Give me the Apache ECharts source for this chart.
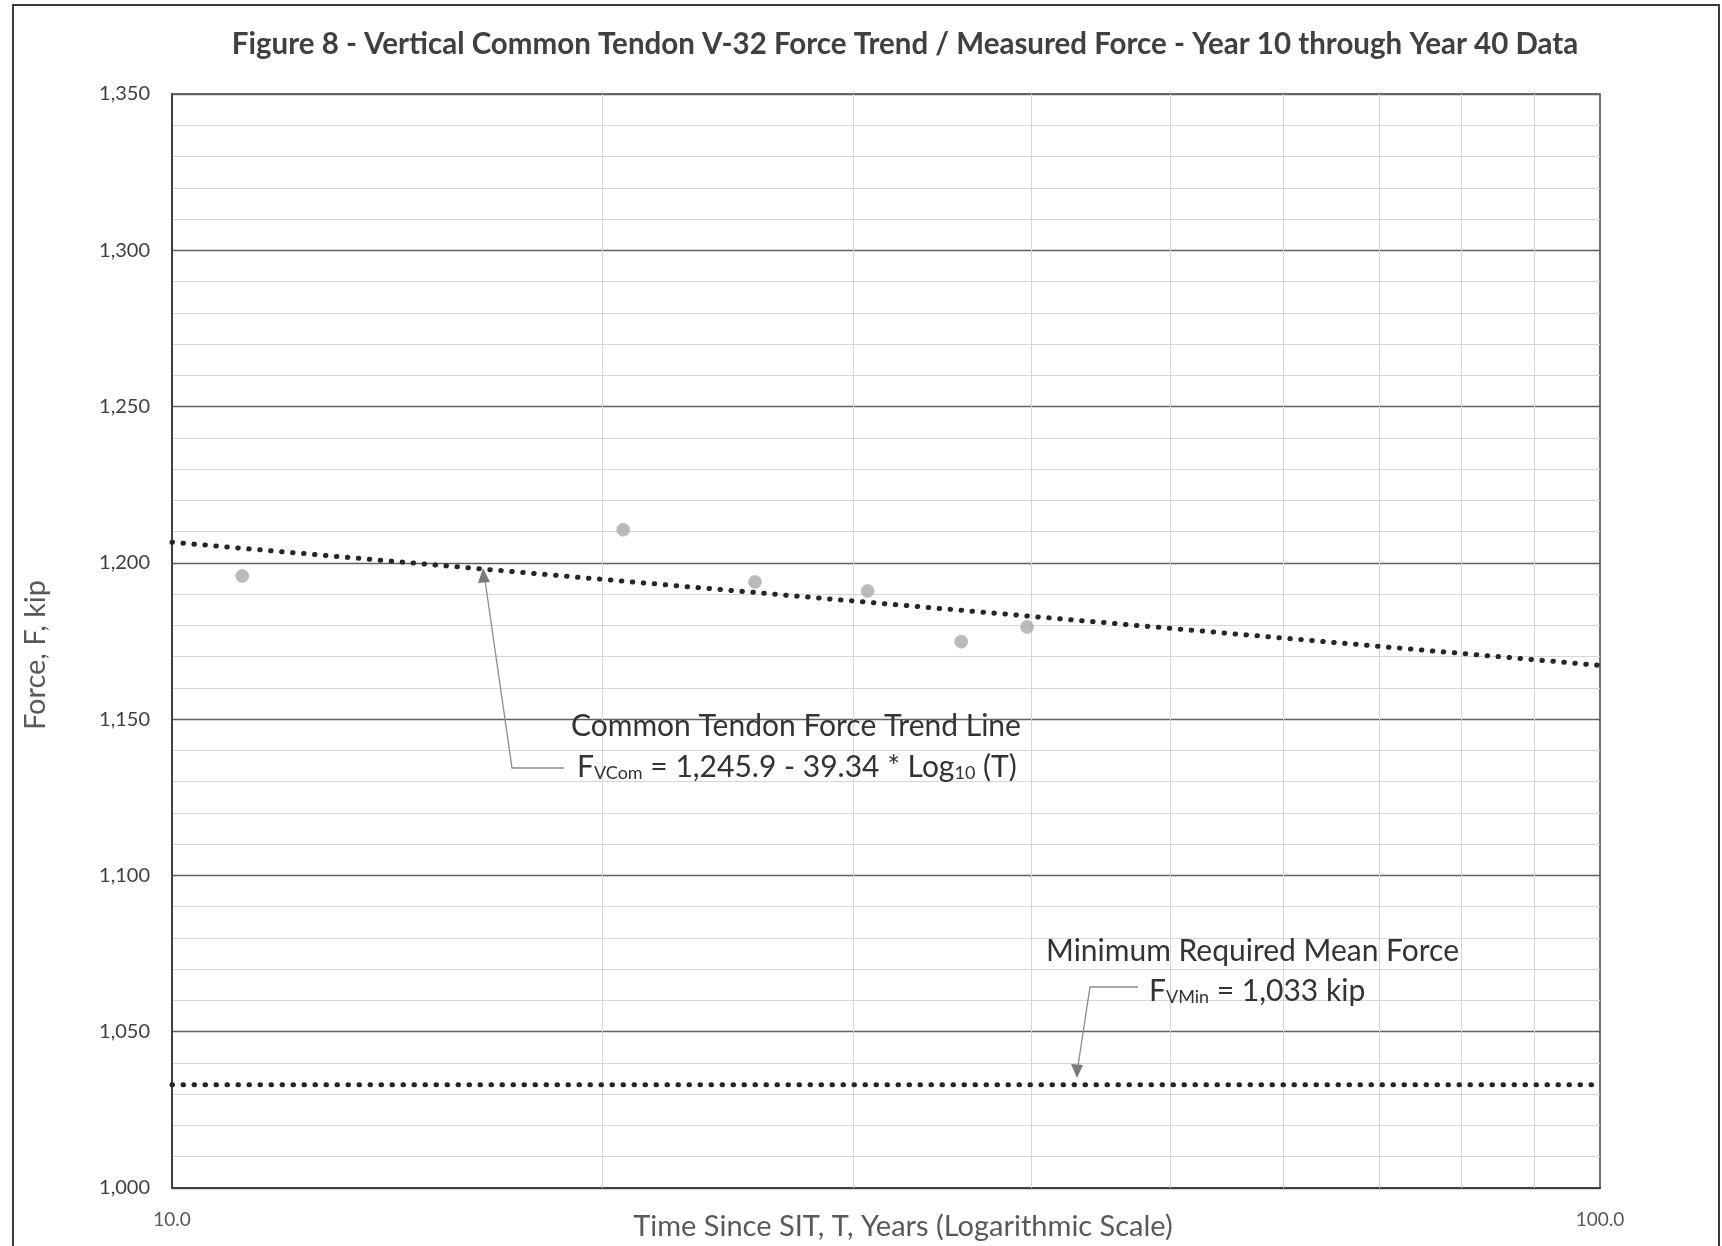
<!DOCTYPE html>
<html>
<head>
<meta charset="utf-8">
<script src="https://cdn.jsdelivr.net/npm/echarts@6/dist/echarts.min.js"></script>
<style>
  html, body { margin: 0; padding: 0; background: #ffffff; }
  #chart { width: 1722px; height: 1246px; }
</style>
</head>
<body>
<div id="chart"></div>
<script>
// ---- data ----
const TITLE = 'Figure 8 - Vertical Common Tendon V-32 Force Trend / Measured Force - Year 10 through Year 40 Data';
const X_NAME = 'Time Since SIT, T, Years (Logarithmic Scale)';
const Y_NAME = 'Force, F, kip';

// measured tendon forces
const T_YEARS = [11.2, 20.7, 25.6, 30.7, 35.7, 39.7];
const FORCE   = [1195.8, 1210.6, 1193.9, 1191.0, 1174.8, 1179.5];

// trend line end points (F = 1,245.9 - 39.34 * Log10(T))
const TREND_T = [10, 100];
const TREND_F = [1206.6, 1167.2];

// minimum required mean force
const MIN_T = [10, 100];
const MIN_F = [1033, 1033];

// axes
const X_MIN = 10, X_MAX = 100;
const X_MINOR_GRID = [20, 30, 40, 50, 60, 70, 80, 90];
const Y_MIN = 1000, Y_MAX = 1350, Y_STEP = 50;

const FONT = 'Lato, "Open Sans", "DejaVu Sans", sans-serif';

const zip = (a, b) => a.map((v, i) => [v, b[i]]);

const chart = echarts.init(document.getElementById('chart'), null, { renderer: 'canvas' });

const richEq = {
  n: { font: '30px ' + FONT, fill: '#333333', verticalAlign: 'bottom', lineHeight: 34 },
  s: { font: '18px ' + FONT, fill: '#333333', verticalAlign: 'bottom', lineHeight: 12 }
};

const option = {
  backgroundColor: '#ffffff',
  animation: false,
  title: {
    text: TITLE,
    left: 905,
    top: 29,
    padding: 0,
    textAlign: 'center',
    textStyle: { fontFamily: FONT, fontSize: 29.5, fontWeight: 'bold', color: '#404040' }
  },
  grid: {
    left: 172, right: 122, top: 94, bottom: 58,
    outerBoundsMode: 'none',
    containLabel: false,
    show: true, borderColor: '#404040', borderWidth: 1.5, backgroundColor: 'transparent'
  },
  xAxis: {
    type: 'log',
    logBase: 10,
    min: X_MIN,
    max: X_MAX,
    name: X_NAME,
    nameLocation: 'middle',
    nameGap: 24,
    nameMoveOverlap: false,
    nameTextStyle: { fontFamily: FONT, fontSize: 29, color: '#595959', padding: [0, 0, 0, 34] },
    axisLine: { show: true, lineStyle: { color: '#404040', width: 2 } },
    axisTick: { show: false },
    axisLabel: {
      fontFamily: FONT, fontSize: 19, color: '#595959', margin: 22,
      formatter: v => Number(v).toFixed(1)
    },
    splitLine: { show: false }
  },
  yAxis: {
    type: 'value',
    min: Y_MIN,
    max: Y_MAX,
    interval: Y_STEP,
    name: Y_NAME,
    nameLocation: 'middle',
    nameGap: 122,
    nameRotate: 90,
    nameMoveOverlap: false,
    nameTextStyle: { fontFamily: FONT, fontSize: 29, color: '#595959', padding: [0, 28, 0, 0] },
    axisLine: { show: true, lineStyle: { color: '#404040', width: 2 } },
    axisTick: { show: false },
    axisLabel: {
      fontFamily: FONT, fontSize: 20, color: '#404040', margin: 22,
      formatter: v => Number(v).toLocaleString('en-US')
    },
    splitLine: { show: true, lineStyle: { color: '#5f5f5f', width: 1.3 } },
    minorTick: { show: false, splitNumber: 5 },
    minorSplitLine: { show: true, lineStyle: { color: '#d6d6d6', width: 1 } }
  },
  series: [
    {
      name: 'Minimum Required Mean Force',
      type: 'line',
      data: zip(MIN_T, MIN_F),
      symbol: 'none',
      silent: true,
      z: 3,
      lineStyle: { color: '#262626', width: 5, type: [0.5, 10.5], cap: 'round' },
      markLine: {
        silent: true,
        symbol: ['none', 'none'],
        label: { show: false },
        z: 1,
        lineStyle: { color: '#d6d6d6', width: 1, type: 'solid' },
        data: X_MINOR_GRID.map(v => ({ xAxis: v }))
      }
    },
    {
      name: 'Measured Force',
      type: 'scatter',
      data: zip(T_YEARS, FORCE),
      symbol: 'circle',
      symbolSize: 13,
      z: 4,
      itemStyle: { color: '#a9a9a9', borderColor: '#bdbdbd', borderWidth: 1 }
    },
    {
      name: 'Common Tendon Force Trend Line',
      type: 'line',
      data: zip(TREND_T, TREND_F),
      symbol: 'none',
      silent: true,
      z: 5,
      lineStyle: { color: '#262626', width: 5, type: [0.5, 10.5], cap: 'round' }
    }
  ],
  graphic: [
    // outer frame
    { type: 'rect', z: -10, silent: true,
      shape: { x: 13, y: 5, width: 1706, height: 1260 },
      style: { fill: 'none', stroke: '#3a3a3a', lineWidth: 2 } },

    // trend line annotation
    { type: 'text', z: 20, left: 571, top: 711,
      style: { text: 'Common Tendon Force Trend Line', font: '30px ' + FONT, fill: '#333333' } },
    { type: 'text', z: 20, left: 577, top: 752,
      style: { text: '{n|F}{s|VCom}{n| = 1,245.9 - 39.34 * Log}{s|10}{n| (T)}', rich: richEq } },
    { type: 'polyline', z: 20, silent: true,
      shape: { points: [[564, 768], [512, 768], [485, 580]] },
      style: { stroke: '#8c8c8c', lineWidth: 1.3, fill: 'none' } },
    { type: 'polygon', z: 20, silent: true,
      shape: { points: [[483, 568], [478, 583], [490, 582]] },
      style: { fill: '#7a7a7a' } },

    // minimum force annotation
    { type: 'text', z: 20, left: 1046, top: 936,
      style: { text: 'Minimum Required Mean Force', font: '30px ' + FONT, fill: '#333333' } },
    { type: 'text', z: 20, left: 1149, top: 976,
      style: { text: '{n|F}{s|VMin}{n| = 1,033 kip}', rich: richEq } },
    { type: 'polyline', z: 20, silent: true,
      shape: { points: [[1138, 987], [1090, 987], [1078, 1066]] },
      style: { stroke: '#8c8c8c', lineWidth: 1.3, fill: 'none' } },
    { type: 'polygon', z: 20, silent: true,
      shape: { points: [[1077, 1078], [1071, 1064], [1083, 1065]] },
      style: { fill: '#7a7a7a' } }
  ]
};

chart.setOption(option);
</script>
</body>
</html>
